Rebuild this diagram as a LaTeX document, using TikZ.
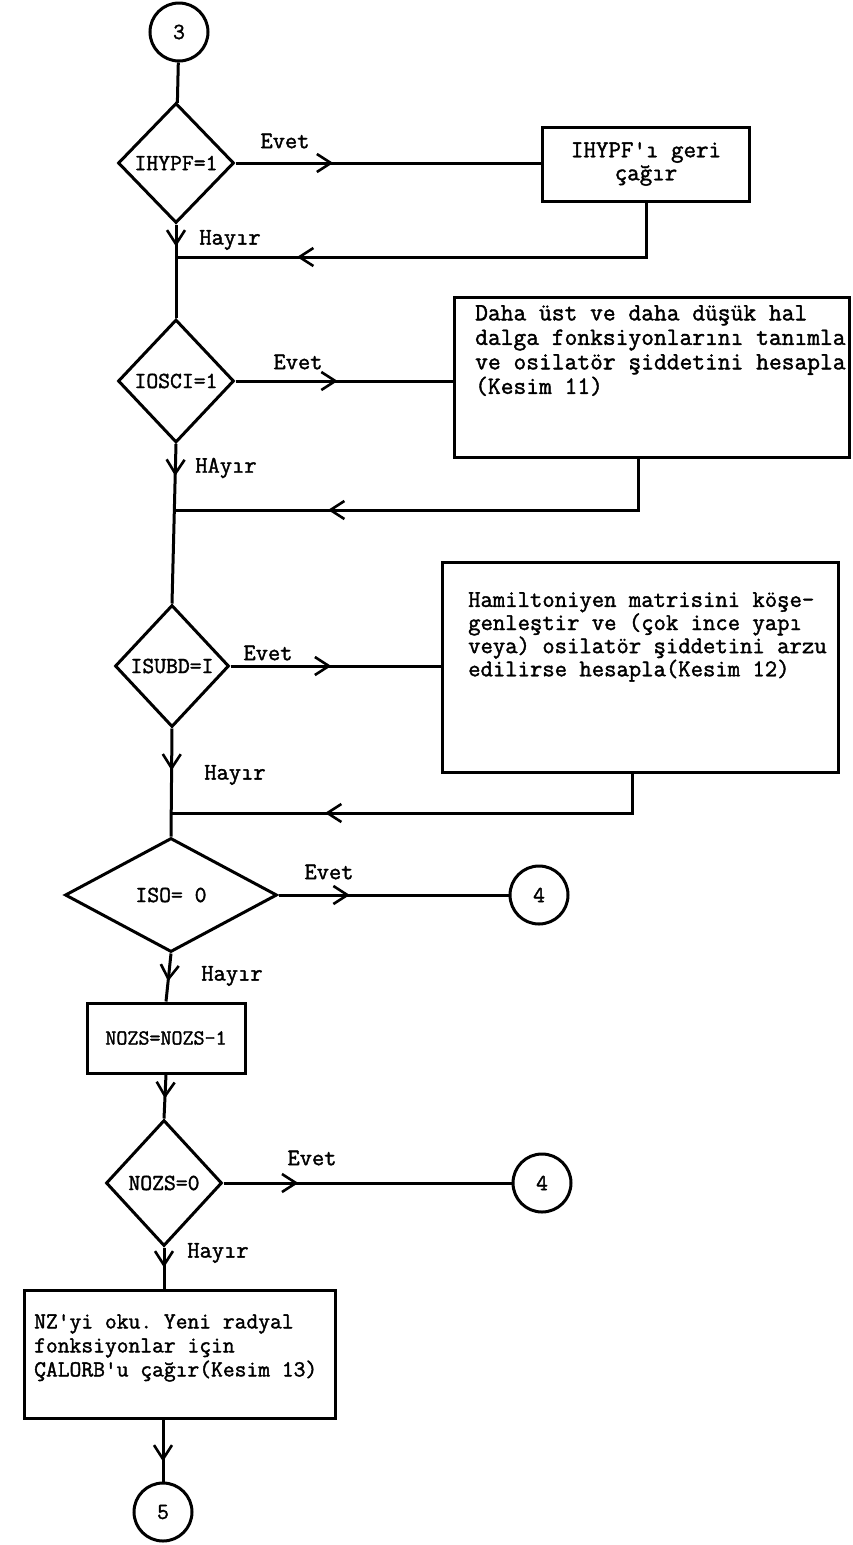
\documentclass[tikz,border=0pt]{standalone}
\usepackage{fontspec}
\setmonofont{Latin Modern Mono}[FakeBold=1.6]
\usetikzlibrary{shapes.geometric,arrows.meta,decorations.markings,calc}

\tikzset{
	flow/.style={line width=3pt},
	barb/.tip={Straight Barb[length=14pt,width=18pt,line width=2.6pt]},
	arrowat/.style={postaction={decorate},decoration={markings,mark=at position #1 with {\arrow{barb}}}},
	decision/.style={draw,diamond,line width=3pt,inner sep=0pt,font=\ttfamily\fontsize{23}{25}\selectfont},
	process/.style={draw,rectangle,line width=3pt,inner sep=0pt,font=\ttfamily\fontsize{24.3}{23}\selectfont},
	connector/.style={draw,circle,line width=3pt,minimum size=58pt,inner sep=0pt,font=\ttfamily\fontsize{23}{25}\selectfont},
	answer/.style={inner sep=0pt,font=\ttfamily\fontsize{23.8}{25}\selectfont},
	boxtext/.style={inner sep=0pt,anchor=north west,align=left,font=\ttfamily\fontsize{24.8}{24.5}\selectfont},
}

\begin{document}
\begin{tikzpicture}[x=1pt,y=-1pt]
	\useasboundingbox (0,0) rectangle (852,1545);
	
	%%%%% IHYPF %%%%%
	\node[connector] (c3) at (179,32) {3};
	\node[decision,minimum width=116pt,minimum height=120pt] (d1) at (176,163) {IHYPF=1};
	\node[process,minimum width=207pt,minimum height=74pt,align=center] (b1) at (646,164) {IHYPF'ı geri\\çağır};
	\node[answer] (e1) at (285,141) {Evet};
	\node[answer] (h1) at (230,240) {Hayır};
	\coordinate (j1) at (176,257);
	
	%%%%% IOSCI %%%%%
	\node[decision,minimum width=116pt,minimum height=123pt] (d2) at (176,381) {IOSCI=1};
	\node[process,minimum width=395pt,minimum height=160pt] (b2) at (652,377) {};
	\node[boxtext] (t2) at (475,305) {Daha üst ve daha düşük hal\\dalga fonksiyonlarını tanımla\\ve osilatör şiddetini hesapla\\(Kesim 11)};
	\node[answer] (e2) at (298,362) {Evet};
	\node[answer] (h2) at (226,468) {HAyır};
	\coordinate (j2) at (176,510);
	
	%%%%% ISUBD %%%%%
	\node[decision,minimum width=114pt,minimum height=122pt] (d3) at (172,666) {ISUBD=I};
	\node[process,minimum width=396pt,minimum height=210pt] (b3) at (640,667) {};
	\node[boxtext,font=\ttfamily\fontsize{24}{22}\selectfont] (t3) at (468,592) {Hamiltoniyen matrisini köşe-\\genleştir ve (çok ince yapı\\veya) osilatör şiddetini arzu\\edilirse hesapla(Kesim 12)};
	\node[answer] (e3) at (268,653) {Evet};
	\node[answer] (h3) at (235,775) {Hayır};
	\coordinate (j3) at (171,813);
	
	%%%%% ISO %%%%%
	\node[decision,minimum width=212pt,minimum height=114pt] (d4) at (171,895) {ISO= 0};
	\node[connector] (c4a) at (539,895) {4};
	\node[answer] (e4) at (329,872) {Evet};
	\node[answer] (h4) at (232,976) {Hayır};
	
	%%%%% NOZS %%%%%
	\node[process,minimum width=158pt,minimum height=70pt,font=\ttfamily\fontsize{21.4}{24}\selectfont] (b4) at (166,1038) {NOZS=NOZS-1};
	\node[decision,minimum width=116pt,minimum height=126pt] (d5) at (164,1183) {NOZS=0};
	\node[connector] (c4b) at (542,1183) {4};
	\node[answer] (e5) at (312,1158) {Evet};
	\node[answer] (h5) at (218,1253) {Hayır};
	
	%%%%% CALORB %%%%%
	\node[process,minimum width=311pt,minimum height=128pt] (b5) at (179.5,1354) {};
	\node[boxtext,font=\ttfamily\fontsize{22.9}{24}\selectfont] (t5) at (34,1314) {NZ'yi oku. Yeni radyal\\fonksiyonlar için\\ÇALORB'u çağır(Kesim 13)};
	\node[connector] (c5) at (163,1512) {5};
	
	%%%%% connectors %%%%%
	\draw[flow] (c3) -- (d1);
	\draw[flow,arrowat=0.32] (d1.east) -- (d1.east -| b1.west);
	\draw[flow,arrowat=-121pt] (b1.south) |- (j1);
	\draw[flow,arrowat=22pt] (d1.south) -- (d2.north);
	
	\draw[flow,arrowat=0.47] (d2.east) -- (d2.east -| b2.west);
	\draw[flow,arrowat=-152pt] ($(b2.south)+(-14,0)$) |- (j2);
	\draw[flow,arrowat=32pt] (d2.south) -- (d3.north);
	
	\draw[flow,arrowat=0.48] (d3.east) -- (d3.east -| b3.west);
	\draw[flow,arrowat=-154pt] ($(b3.south)+(-8,0)$) |- (j3);
	\draw[flow,arrowat=42pt] (d3.south) -- (d4.north);
	
	\draw[flow,arrowat=0.31] (d4.east) -- (c4a);
	\draw[flow,arrowat=28pt] (d4.south) -- (b4.north);
	\draw[flow,arrowat=24pt] (b4.south) -- (d5.north);
	
	\draw[flow,arrowat=0.26] (d5.east) -- (c4b);
	\draw[flow,arrowat=20pt] (d5.south) -- (d5.south |- b5.north);
	\draw[flow,arrowat=42pt] (c5 |- b5.south) -- (c5);
\end{tikzpicture}
\end{document}
